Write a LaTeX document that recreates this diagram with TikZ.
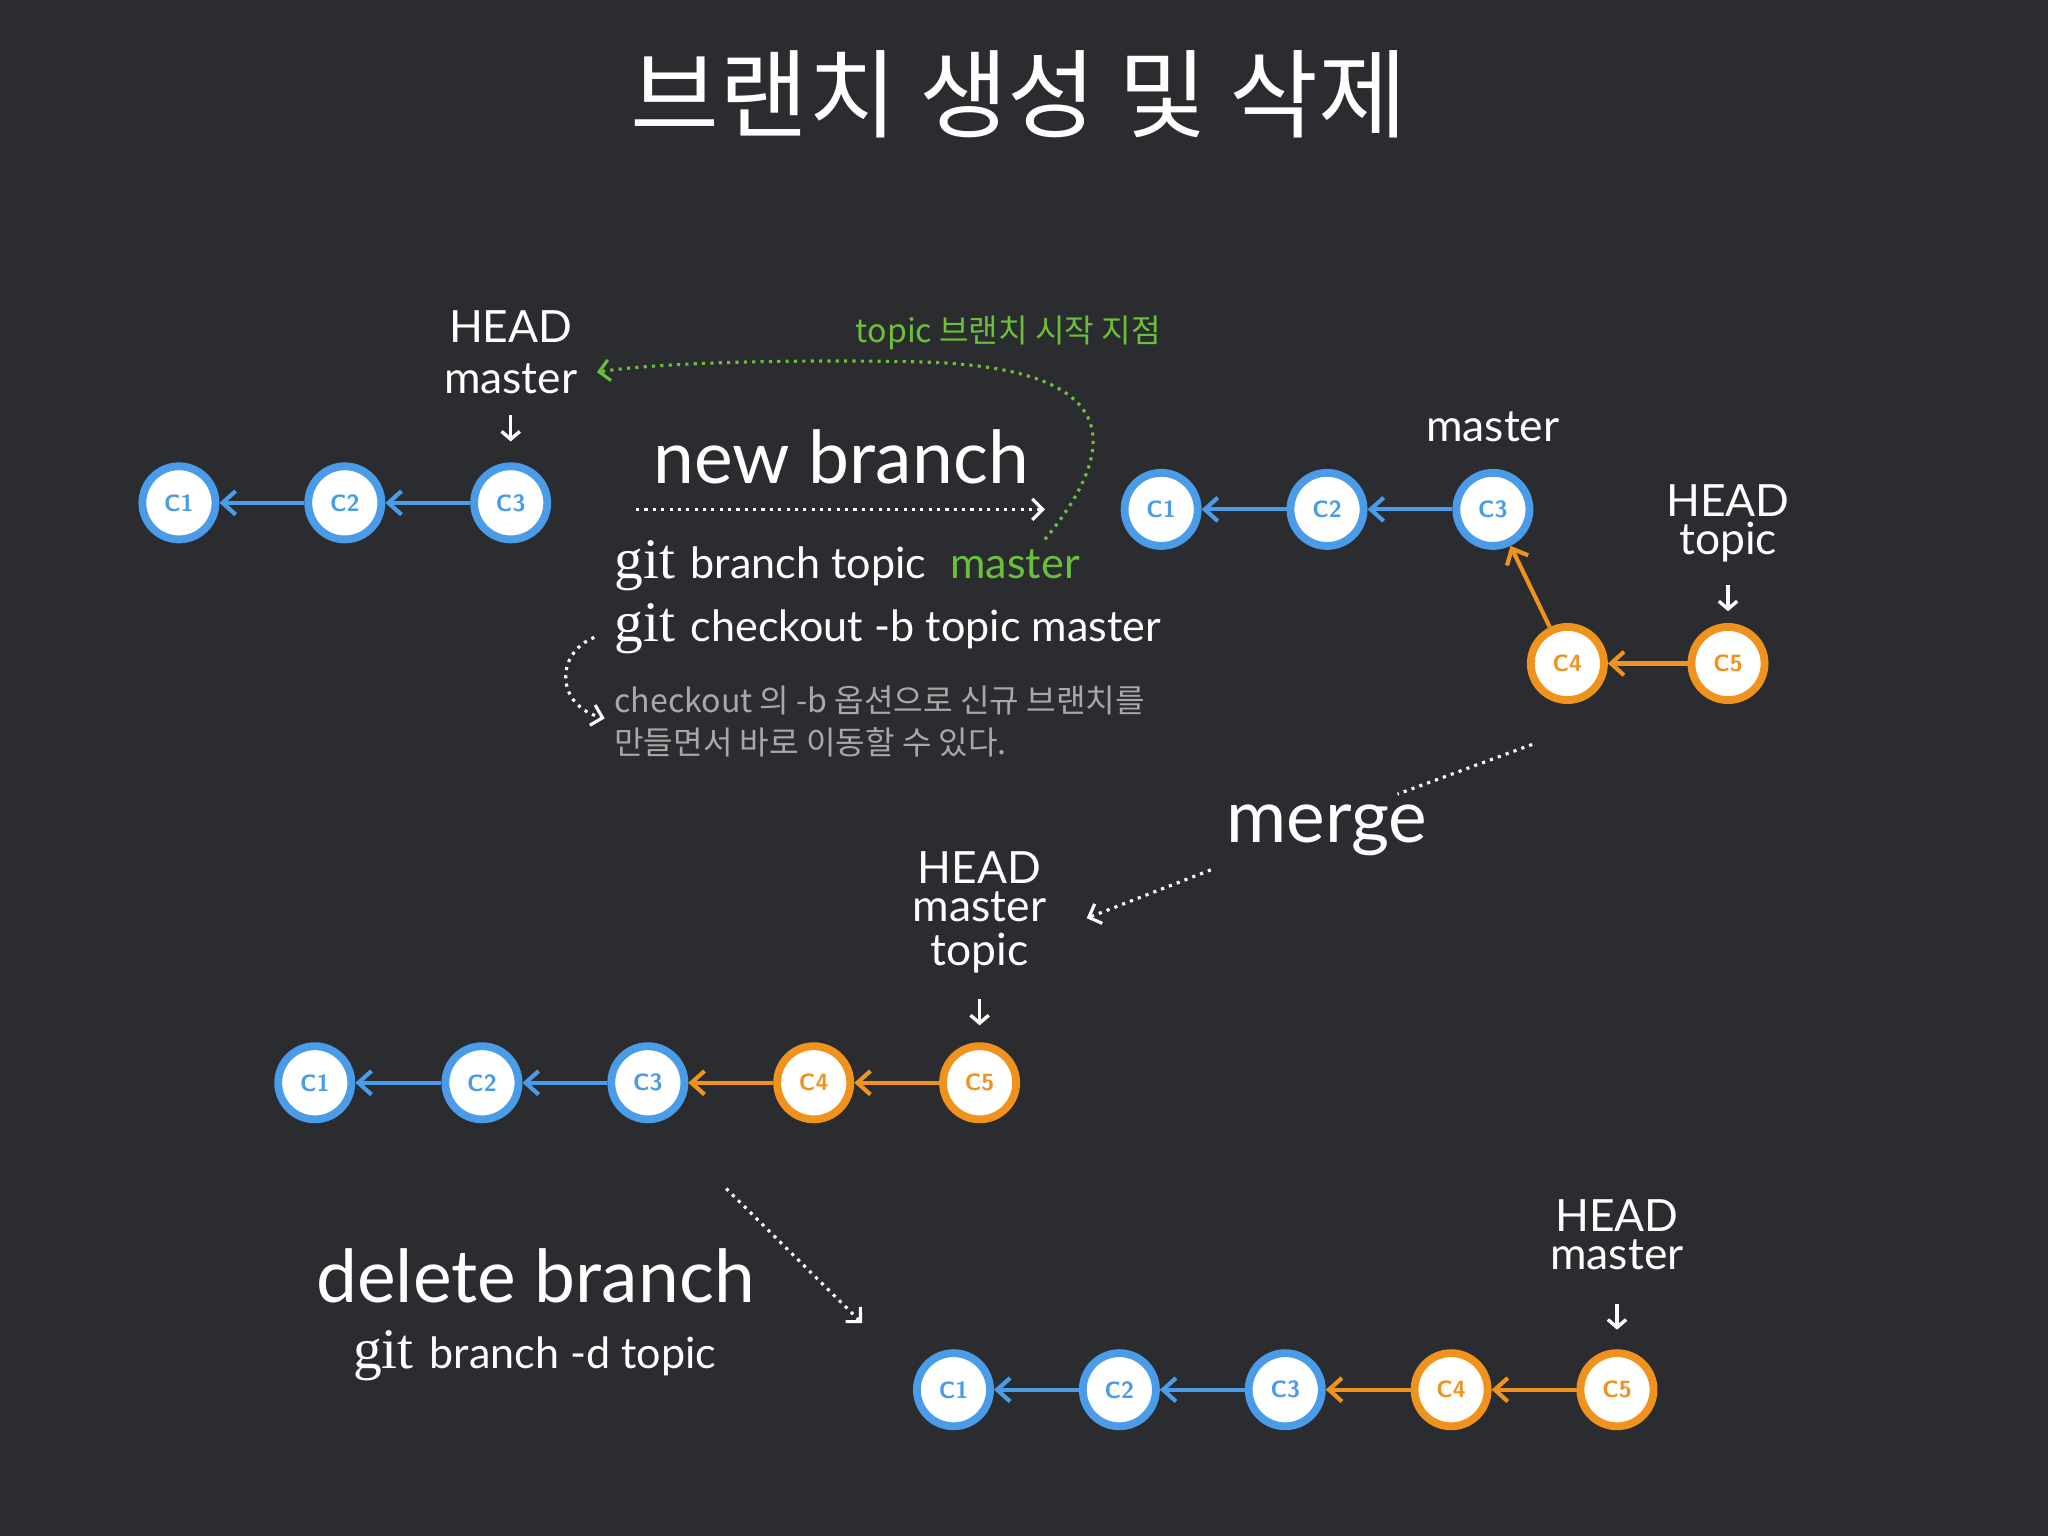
\documentclass[tikz,border=0pt]{standalone}
\usepackage{fontspec}
\setmainfont{Lato}
\newfontfamily\kr{Noto Sans CJK KR}
\newfontfamily\gitf{Liberation Serif}
\usetikzlibrary{arrows.meta}
\definecolor{bg}{HTML}{2A2C30}
\definecolor{cb}{HTML}{4A9BE8}
\definecolor{co}{HTML}{F0921E}
\definecolor{cg}{HTML}{6CBF3A}
\definecolor{cgr}{HTML}{A8A8A8}
\begin{document}
\begin{tikzpicture}[x=0.5pt,y=-0.5pt,
 cm/.style={circle,draw=#1,line width=3pt,fill=white,minimum size=28pt,inner sep=0,text=#1,font=\sffamily\bfseries\fontsize{9}{9}\selectfont},
 lk/.style={draw=#1,line width=1.6pt,-{Straight Barb[length=5pt,width=9pt,line width=1.6pt]}},
 lbl/.style={text=white,font=\fontsize{17}{17}\selectfont,inner sep=0},
 big/.style={text=white,font=\fontsize{28}{28}\selectfont,inner sep=0},
 dn/.style={draw=white,line width=1.3pt,-{Straight Barb[length=3pt,width=7pt,line width=1.3pt]}},
 dot/.style={draw=#1,line width=1.2pt,dotted,-{Straight Barb[length=4pt,width=8pt,line width=1.2pt]}},
 dot/.default=white]
\fill[bg] (0,0) rectangle (1568,1176);
\node[text=white,font=\kr\fontsize{37}{37}\selectfont] (title) at (780,72) {브랜치 생성 및 삭제};
% group 1
\node[cm=cb] (a1) at (137,385) {C1};
\node[cm=cb] (a2) at (264,385) {C2};
\node[cm=cb] (a3) at (391,385) {C3};
\draw[lk=cb] (a2)--(a1); \draw[lk=cb] (a3)--(a2);
\node[lbl] (ah) at (391,250) {HEAD};
\node[lbl] (am) at (391,290) {master};
\coordinate (aa) at (391,318); \coordinate (ab) at (391,338);
\draw[dn] (aa)--(ab);
% middle text
\node[big] (nb) at (644,350) {new branch};
\coordinate (nb1) at (487,390); \coordinate (nb2) at (800,390);
\draw[dot] (nb1)--(nb2);
\node[anchor=west,text=white,inner sep=0] (g1) at (470,433) {{\gitf\fontsize{22}{22}\selectfont git}\hspace{6pt}{\fontsize{16.5}{16.5}\selectfont branch topic\hspace{5pt} \textcolor{cg}{master}}};
\node[anchor=west,text=white,inner sep=0] (g2) at (470,481) {{\gitf\fontsize{22}{22}\selectfont git}\hspace{6pt}{\fontsize{16.5}{16.5}\selectfont checkout -b topic master}};
\node[anchor=west,text=cgr,inner sep=0,font=\kr\fontsize{12.3}{12.3}\selectfont] (n1) at (470,536) {checkout 의 -b 옵션으로 신규 브랜치를};
\node[anchor=west,text=cgr,inner sep=0,font=\kr\fontsize{12.3}{12.3}\selectfont] (n2) at (470,568) {만들면서 바로 이동할 수 있다.};
\coordinate (c1) at (455,488); \coordinate (c2) at (463,550);
\draw[dot] (c1) .. controls (425,500) and (425,540) .. (c2);
\node[text=cg,font=\kr\fontsize{12.3}{12.3}\selectfont,inner sep=0] (tg) at (772,255) {topic 브랜치 시작 지점};
\coordinate (t1) at (800,413); \coordinate (t2) at (457,285);
\draw[dot=cg] (t1) .. controls (860,340) and (860,280) .. (700,277) .. controls (600,275) and (500,278) .. (t2);
% group 2
\node[cm=cb] (b1) at (889,390) {C1};
\node[cm=cb] (b2) at (1016,390) {C2};
\node[cm=cb] (b3) at (1143,390) {C3};
\node[cm=co] (b4) at (1200,508) {C4};
\node[cm=co] (b5) at (1323,508) {C5};
\draw[lk=cb] (b2)--(b1); \draw[lk=cb] (b3)--(b2);
\draw[lk=co] (b4)--(b3); \draw[lk=co] (b5)--(b4);
\node[lbl] (bm) at (1143,327) {master};
\node[lbl] (bh) at (1323,383) {HEAD};
\node[lbl] (bt) at (1323,415) {topic};
\coordinate (ba) at (1323,448); \coordinate (bb) at (1323,468);
\draw[dn] (ba)--(bb);
% merge
\node[big] (mg) at (1016,636) {merge};
\coordinate (m1) at (1173,570); \coordinate (m2) at (1070,608);
\draw[white,line width=1.2pt,dotted] (m1)--(m2);
\coordinate (m3) at (927,666); \coordinate (m4) at (832,703);
\draw[dot] (m3)--(m4);
% group 3
\node[cm=cb] (c31) at (241,829) {C1};
\node[cm=cb] (c32) at (369,829) {C2};
\node[cm=cb] (c33) at (496,829) {C3};
\node[cm=co] (c34) at (623,829) {C4};
\node[cm=co] (c35) at (750,829) {C5};
\draw[lk=cb] (c32)--(c31); \draw[lk=cb] (c33)--(c32);
\draw[lk=co] (c34)--(c33); \draw[lk=co] (c35)--(c34);
\node[lbl] (ch) at (750,664) {HEAD};
\node[lbl] (cmm) at (750,694) {master};
\node[lbl] (ct) at (750,730) {topic};
\coordinate (ca) at (750,765); \coordinate (cb2) at (750,785);
\draw[dn] (ca)--(cb2);
% delete
\node[big] (db) at (410,977) {delete branch};
\node[anchor=west,text=white,inner sep=0] (g3) at (270,1038) {{\gitf\fontsize{22}{22}\selectfont git}\hspace{6pt}{\fontsize{16.5}{16.5}\selectfont branch -d topic}};
\coordinate (d1) at (556,910); \coordinate (d2) at (660,1013);
\draw[dot] (d1)--(d2);
% group 4
\node[cm=cb] (e1) at (730,1064) {C1};
\node[cm=cb] (e2) at (857,1064) {C2};
\node[cm=cb] (e3) at (984,1064) {C3};
\node[cm=co] (e4) at (1111,1064) {C4};
\node[cm=co] (e5) at (1238,1064) {C5};
\draw[lk=cb] (e2)--(e1); \draw[lk=cb] (e3)--(e2);
\draw[lk=co] (e4)--(e3); \draw[lk=co] (e5)--(e4);
\node[lbl] (eh) at (1238,931) {HEAD};
\node[lbl] (em) at (1238,961) {master};
\coordinate (ea) at (1238,998); \coordinate (eb) at (1238,1018);
\draw[dn] (ea)--(eb);
\end{tikzpicture}
\end{document}
